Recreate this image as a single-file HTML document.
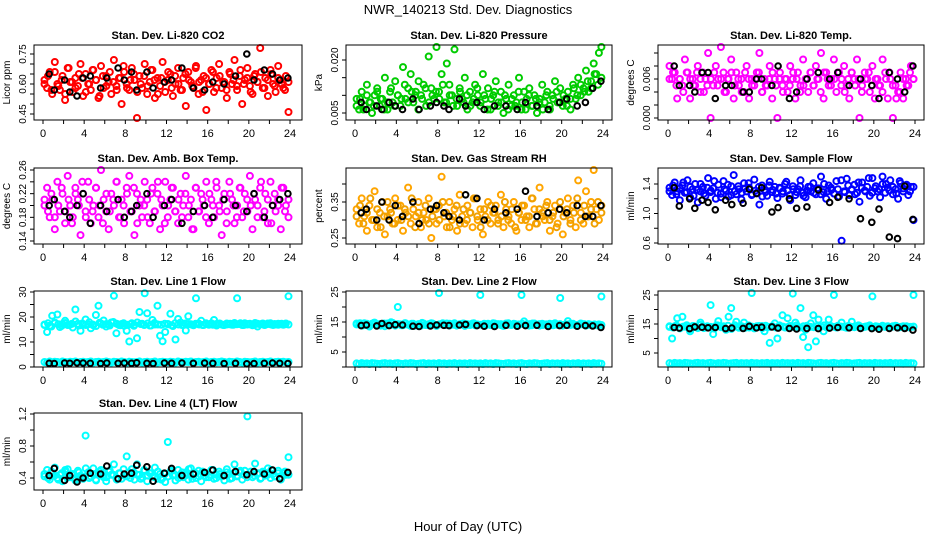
<!DOCTYPE html>
<html><head><meta charset="utf-8">
<style>
html,body{margin:0;padding:0;background:#fff;}
svg{display:block;font-family:"Liberation Sans",Arial,sans-serif;}
</style></head>
<body>
<svg id="chart" width="936" height="540" viewBox="0 0 936 540">
<text x="468" y="14" font-size="13" text-anchor="middle">NWR_140213 Std. Dev. Diagnostics</text>
<text x="468" y="531" font-size="13" text-anchor="middle">Hour of Day (UTC)</text>
</svg>
<script>
const blackHours=[0.6,1.1,2.1,2.6,3.3,3.9,4.6,5.6,6.2,7.3,7.9,8.6,9.1,10.1,10.7,11.8,12.5,13.5,14.6,15.7,16.5,17.6,18.7,19.8,20.5,21.5,22.3,23.0,23.8];
const xTicks=[0,2,4,6,8,10,12,14,16,18,20,22,24];
const xTickLabels=[0,4,8,12,16,20,24];

const co2Vals=[0.62,0.58,0.66,0.55,0.71,0.60,0.57,0.64,0.52,0.68,0.61,0.56,0.63,0.59,0.70,0.54,0.65,0.60,0.57,0.67,0.62,0.53,0.69,0.58,0.64,0.61,0.55,0.72,0.59,0.63,0.50,0.66,0.60,0.57,0.68,0.62,0.43,0.64,0.58,0.70,0.55,0.61,0.67,0.53,0.63,0.59,0.71,0.56,0.62,0.65,0.54,0.60,0.68,0.57,0.63,0.49,0.66,0.61,0.58,0.69,0.55,0.62,0.64,0.47,0.60,0.67,0.56,0.63,0.70,0.58,0.61,0.53,0.66,0.60,0.72,0.57,0.64,0.50,0.62,0.68,0.59,0.55,0.65,0.61,0.78,0.58,0.63,0.54,0.67,0.60,0.56,0.69,0.62,0.58,0.64,0.46];
const co2ValsB=[0.60,0.64,0.57,0.66,0.59,0.62,0.55,0.68,0.61,0.58,0.65,0.63,0.56,0.60,0.67,0.62,0.54,0.64,0.59,0.66,0.61,0.57,0.63,0.69,0.58,0.62,0.65,0.56,0.60,0.64,0.59,0.67,0.62,0.55,0.63,0.61,0.66,0.58,0.64,0.60,0.57,0.65,0.62,0.59,0.68,0.61,0.56,0.63,0.60,0.66,0.58,0.64,0.61,0.57,0.65,0.62,0.59,0.67,0.60,0.63,0.56,0.64,0.61,0.66,0.58,0.62,0.65,0.59,0.63,0.60,0.57,0.61];
const co2Black=[0.65,0.57,0.62,0.56,0.54,0.63,0.64,0.58,0.63,0.68,0.62,0.66,0.57,0.66,0.58,0.61,0.62,0.68,0.58,0.57,0.61,0.60,0.64,0.75,0.62,0.67,0.65,0.62,0.63];

const presVals=[0.009,0.006,0.011,0.007,0.013,0.008,0.005,0.010,0.012,0.007,0.009,0.015,0.006,0.011,0.008,0.014,0.010,0.007,0.018,0.009,0.012,0.016,0.008,0.011,0.006,0.010,0.013,0.007,0.021,0.012,0.009,0.025,0.011,0.016,0.008,0.019,0.013,0.010,0.023,0.007,0.012,0.009,0.015,0.006,0.011,0.008,0.013,0.010,0.007,0.016,0.009,0.012,0.006,0.010,0.014,0.008,0.011,0.005,0.009,0.013,0.007,0.010,0.008,0.015,0.006,0.011,0.009,0.012,0.007,0.010,0.005,0.009,0.013,0.008,0.011,0.006,0.010,0.014,0.008,0.012,0.007,0.009,0.011,0.006,0.013,0.009,0.015,0.010,0.012,0.017,0.011,0.014,0.019,0.016,0.022,0.024];
const presValsB=[0.007,0.009,0.006,0.010,0.008,0.007,0.011,0.009,0.006,0.008,0.012,0.007,0.010,0.009,0.013,0.008,0.011,0.010,0.014,0.009,0.012,0.008,0.010,0.011,0.009,0.013,0.008,0.010,0.007,0.009,0.011,0.008,0.010,0.007,0.009,0.012,0.008,0.010,0.006,0.009,0.011,0.007,0.008,0.010,0.006,0.009,0.007,0.011,0.008,0.006,0.010,0.007,0.009,0.008,0.006,0.010,0.007,0.009,0.011,0.008,0.010,0.007,0.009,0.012,0.010,0.013,0.011,0.014,0.012,0.016,0.013,0.015];
const presBlack=[0.008,0.006,0.007,0.006,0.008,0.007,0.006,0.009,0.006,0.007,0.008,0.007,0.006,0.009,0.007,0.008,0.006,0.007,0.007,0.006,0.008,0.007,0.006,0.008,0.009,0.007,0.008,0.012,0.014];

const tempVals=[0.008,0.006,0.007,0.003,0.006,0.005,0.009,0.007,0.003,0.006,0.005,0.008,0.004,0.007,0.006,0.010,0.000,0.005,0.008,0.006,0.011,0.007,0.004,0.006,0.009,0.003,0.007,0.005,0.006,0.004,0.008,0.003,0.006,0.005,0.007,0.010,0.004,0.006,0.005,0.008,0.003,0.006,0.000,0.007,0.005,0.006,0.004,0.008,0.006,0.003,0.007,0.005,0.009,0.006,0.004,0.007,0.005,0.008,0.006,0.010,0.003,0.007,0.005,0.006,0.009,0.004,0.007,0.006,0.008,0.005,0.003,0.007,0.006,0.009,0.000,0.005,0.007,0.006,0.004,0.008,0.003,0.006,0.005,0.009,0.007,0.003,0.006,0.000,0.005,0.004,0.007,0.003,0.006,0.005,0.008,0.006];
const tempValsB=[0.006,0.007,0.005,0.006,0.004,0.007,0.006,0.005,0.007,0.006,0.004,0.005,0.006,0.007,0.005,0.006,0.004,0.006,0.007,0.005,0.006,0.004,0.007,0.006,0.005,0.006,0.007,0.004,0.005,0.006,0.007,0.005,0.006,0.004,0.006,0.005,0.007,0.006,0.004,0.005,0.006,0.007,0.005,0.006,0.004,0.007,0.006,0.005,0.006,0.007,0.005,0.004,0.006,0.007,0.005,0.006,0.004,0.006,0.007,0.005,0.006,0.005,0.004,0.006,0.007,0.005,0.003,0.004,0.006,0.005,0.007,0.006];
const tempBlack=[0.008,0.005,0.005,0.004,0.007,0.007,0.003,0.005,0.005,0.004,0.004,0.006,0.006,0.005,0.008,0.003,0.004,0.006,0.007,0.006,0.007,0.005,0.006,0.005,0.003,0.007,0.006,0.004,0.008];

const boxVals=[0.20,0.23,0.18,0.21,0.16,0.24,0.19,0.22,0.17,0.25,0.20,0.18,0.23,0.21,0.15,0.22,0.19,0.24,0.17,0.20,0.23,0.18,0.26,0.21,0.19,0.16,0.22,0.20,0.24,0.18,0.21,0.17,0.23,0.25,0.19,0.15,0.22,0.20,0.18,0.24,0.21,0.17,0.23,0.19,0.22,0.16,0.20,0.24,0.18,0.21,0.23,0.19,0.17,0.22,0.20,0.25,0.18,0.21,0.16,0.23,0.19,0.22,0.20,0.24,0.17,0.21,0.18,0.23,0.20,0.15,0.22,0.19,0.24,0.21,0.17,0.20,0.23,0.18,0.22,0.19,0.25,0.16,0.21,0.20,0.23,0.18,0.22,0.17,0.24,0.20,0.19,0.21,0.16,0.23,0.20,0.18];
const boxValsB=[0.21,0.19,0.22,0.18,0.20,0.23,0.19,0.21,0.17,0.22,0.20,0.24,0.18,0.21,0.19,0.23,0.20,0.17,0.22,0.19,0.21,0.24,0.18,0.20,0.22,0.19,0.23,0.17,0.21,0.20,0.18,0.22,0.19,0.24,0.21,0.17,0.20,0.23,0.19,0.21,0.18,0.22,0.20,0.16,0.23,0.19,0.21,0.18,0.22,0.20,0.24,0.19,0.21,0.17,0.22,0.20,0.18,0.23,0.19,0.21,0.20,0.22,0.18,0.24,0.19,0.21,0.17,0.22,0.20,0.23,0.19,0.21];
const boxBlack=[0.20,0.21,0.19,0.18,0.20,0.22,0.17,0.20,0.19,0.21,0.18,0.19,0.20,0.22,0.18,0.20,0.21,0.17,0.19,0.20,0.18,0.21,0.20,0.19,0.22,0.18,0.20,0.21,0.22];

const rhVals=[0.33,0.29,0.36,0.31,0.27,0.34,0.30,0.38,0.28,0.32,0.35,0.26,0.31,0.33,0.29,0.36,0.30,0.34,0.27,0.32,0.39,0.29,0.33,0.31,0.35,0.28,0.32,0.30,0.36,0.25,0.33,0.29,0.34,0.42,0.31,0.28,0.35,0.30,0.33,0.27,0.37,0.31,0.29,0.34,0.32,0.28,0.36,0.30,0.33,0.26,0.31,0.35,0.29,0.32,0.34,0.30,0.37,0.28,0.33,0.31,0.29,0.35,0.27,0.32,0.30,0.34,0.31,0.28,0.36,0.33,0.29,0.39,0.32,0.30,0.35,0.27,0.31,0.34,0.29,0.33,0.26,0.32,0.36,0.30,0.34,0.28,0.41,0.32,0.29,0.38,0.31,0.35,0.44,0.33,0.30,0.34];
const rhValsB=[0.31,0.34,0.29,0.32,0.36,0.30,0.33,0.28,0.31,0.35,0.32,0.29,0.34,0.30,0.33,0.31,0.36,0.28,0.32,0.30,0.34,0.29,0.31,0.33,0.30,0.35,0.32,0.28,0.31,0.34,0.29,0.33,0.30,0.32,0.36,0.31,0.28,0.33,0.30,0.34,0.32,0.29,0.31,0.35,0.30,0.33,0.28,0.32,0.34,0.30,0.31,0.36,0.29,0.33,0.31,0.34,0.30,0.32,0.28,0.35,0.31,0.33,0.29,0.32,0.36,0.30,0.34,0.31,0.33,0.29,0.35,0.32];
const rhBlack=[0.32,0.33,0.30,0.35,0.30,0.34,0.31,0.35,0.29,0.33,0.34,0.32,0.31,0.30,0.37,0.36,0.30,0.33,0.32,0.33,0.38,0.31,0.32,0.33,0.32,0.34,0.31,0.31,0.34];

const flowVals=[1.35,1.25,1.42,1.30,1.18,1.38,1.28,1.45,1.22,1.33,1.40,1.15,1.30,1.36,1.24,1.48,1.29,1.34,1.20,1.39,1.27,1.44,1.31,1.23,1.37,1.52,1.26,1.33,1.19,1.41,1.30,1.35,1.25,1.46,1.28,1.12,1.38,1.32,1.24,1.43,1.29,1.36,1.21,1.34,1.27,1.40,1.31,1.18,1.37,1.25,1.33,1.45,1.28,1.22,1.36,1.30,1.41,1.26,1.34,1.50,1.29,1.20,1.38,1.32,1.27,1.44,1.23,0.63,1.30,1.47,1.25,1.33,1.39,1.28,1.16,1.42,1.31,1.36,1.24,1.48,1.34,1.30,1.22,1.40,1.28,1.35,1.45,1.26,1.33,1.20,1.41,1.30,1.38,1.25,1.36,0.91];
const flowValsB=[1.30,1.38,1.26,1.34,1.42,1.29,1.36,1.24,1.32,1.40,1.27,1.35,1.31,1.44,1.28,1.22,1.33,1.39,1.25,1.30,1.37,1.28,1.34,1.41,1.26,1.31,1.36,1.23,1.29,1.38,1.32,1.27,1.35,1.30,1.43,1.25,1.33,1.29,1.37,1.24,1.31,1.36,1.28,1.34,1.26,1.40,1.30,1.35,1.27,1.33,1.45,1.29,1.38,1.32,1.26,1.42,1.35,1.30,1.48,1.28,1.37,1.33,1.50,1.40,1.31,1.36,1.27,1.44,1.34,1.39,1.30,1.36];
const flowBlack=[1.35,1.10,1.20,1.07,1.18,1.15,1.05,1.18,1.12,1.14,1.33,1.27,1.35,1.02,1.08,1.20,1.07,1.09,1.32,1.15,1.22,1.20,0.93,0.88,1.06,0.68,0.66,1.37,0.92];

const l1Main=[17,14,16.5,20.5,17.5,21,16,17.2,18.5,16.8,17,15.8,23,17.3,14.5,16.9,19,17.1,15.5,16.7,20.8,24.5,17.4,18.6,16.2,17,17.8,28.5,13.5,16.8,17.2,16.5,14.5,10.2,17.5,16.9,11.5,22,17.3,29.5,21.5,16.6,18.8,17,24.5,12.5,10.3,14,17.2,21.3,16.4,11,19.2,17.8,16.9,14.6,20.3,17.1,16.7,27.5,17.4,18.5,16.8,17.2,16.9,17.5,18.8,16.6,17.3,17,16.8,17.4,17.1,16.9,17.6,27.5,17.2,16.8,17.5,17,17.3,16.7,17.6,16.2,17.1,17.4,16.9,17.2,17.5,16.8,17,17.3,17.1,16.9,17.4,28.3];
const l1MainB=[16.8,17.5,16.2,17.8,17.1,16.5,17.6,16.9,17.3,18.2,16.6,17.4,16.8,17.9,17.0,16.4,17.7,16.9,17.2,16.6,18.0,17.3,16.7,17.5,16.9,17.1,16.5,17.8,17.2,16.8,17.4,16.6,17.6,17.0,16.9,17.3,17.1,16.7,17.5,17.0,16.8,17.4,17.2,16.9,17.3,17.0,16.8,17.5,17.1,16.9,17.2,17.4,16.8,17.0,17.3,16.9,17.1,17.5,16.8,17.2,17.0,16.9,17.3,17.1,16.8,17.4,17.0,17.2,16.9,17.3,17.1,17.0];
const l1Low=[2,1.8,2.2,1.9,2.1,2,1.8,2.2,2,1.9,2.1,2,2.2,1.8,2,2.1,1.9,2,2.2,1.8,2,2.1,1.9,2,2.2,2,1.8,2.1,2,1.9,2.2,2,1.8,2.1,2,1.9,2,2.2,1.8,2,2.1,1.9,2,2.2,1.8,2,2.1,2,1.9,2.1,2,1.8,2.2,2,1.9,2.1,2,2.2,1.8,2,2.1,1.9,2,2.2,1.8,2,2.1,1.9,2,2.2,2,1.8,2.1,2,1.9,2.2,2,1.8,2.1,2,1.9,2,2.2,1.8,2,2.1,1.9,2,2.2,1.8,2,2.1,2,2.1,1.9,2];
const l1Black=[1.5,1.4,1.6,1.5,1.7,1.6,1.5,1.4,1.6,1.5,1.6,1.5,1.7,1.5,1.4,1.6,1.5,1.6,1.5,1.6,1.5,1.4,1.5,1.3,1.4,1.5,1.6,1.5,1.4];

const l2Main=[14.5,14.2,13.8,14.6,14.0,13.5,14.4,14.8,13.9,14.3,14.1,13.6,14.5,14.0,14.7,13.8,20,14.2,13.9,14.6,14.1,13.7,14.4,14.0,14.3,13.8,14.5,14.1,13.9,14.6,14.2,13.7,25,14.3,14.0,14.5,13.8,14.2,14.6,13.9,14.1,14.4,13.7,14.3,14.0,14.5,13.9,14.2,24,14.1,13.8,14.4,14.0,14.6,13.9,14.2,14.3,13.7,14.5,14.1,14.0,14.4,13.8,14.2,24,15.2,14.0,14.3,13.9,14.5,14.1,13.8,14.4,14.2,14.0,13.9,14.3,14.6,14.1,23,13.8,14.2,15.3,14.0,14.4,13.9,14.1,14.5,14.2,13.8,14.3,14.0,14.1,13.9,14.2,23.5];
const l2MainB=[14.2,14.6,13.9,14.4,14.0,14.7,14.1,13.8,14.5,14.2,14.9,14.0,14.3,13.9,14.6,14.1,14.4,13.8,14.2,14.7,14.0,14.3,14.5,13.9,14.2,14.6,14.0,14.4,14.1,13.8,14.3,14.5,14.0,14.2,14.6,13.9,14.1,14.4,14.2,14.0,14.5,14.3,13.9,14.2,14.6,14.1,14.3,14.0,14.4,14.2,13.8,14.5,14.1,14.3,14.0,14.2,14.4,13.9,14.1,14.3,14.0,14.2,14.4,14.1,13.9,14.2,14.3,14.0,14.1,14.2,13.9,14.0];
const l2Low=[1.2,1.0,1.3,1.1,1.2,1.0,1.3,1.2,1.1,1.0,1.2,1.3,1.1,1.2,1.0,1.2,1.3,1.1,1.0,1.2,1.1,1.3,1.2,1.0,1.1,1.2,1.3,1.0,1.2,1.1,1.2,1.0,1.3,1.1,1.2,1.0,1.2,1.1,1.3,1.0,1.2,1.1,1.2,1.0,1.3,1.1,1.2,1.1,1.2,1.0,1.3,1.1,1.2,1.0,1.3,1.2,1.1,1.0,1.2,1.3,1.1,1.2,1.0,1.2,1.3,1.1,1.0,1.2,1.1,1.3,1.2,1.0,1.1,1.2,1.3,1.0,1.2,1.1,1.2,1.0,1.3,1.1,1.2,1.0,1.2,1.1,1.3,1.0,1.2,1.1,1.2,1.0,1.3,1.1,1.2,1.1];
const l2Black=[13.8,14.0,13.7,14.5,13.8,14.1,14.0,13.6,13.5,13.7,14.0,13.9,13.8,14.0,14.2,13.8,13.6,13.5,13.9,13.6,13.8,13.9,13.5,13.8,13.9,13.6,13.8,13.7,13.2];

const l3Main=[14,10,14.2,17,13.8,17.5,14.1,13.9,12.5,14.3,14,13.6,15.5,14.2,13.8,14.1,21.5,11.5,14.3,16,13.9,14.2,13,17.5,20.5,14,15.8,13.7,14.2,15.5,14.1,13.8,26,13.5,14.2,14.0,14.3,12.5,13.9,8.5,14.2,15.2,10,14.1,18,13.8,17,14.3,25.5,15.5,14.0,20.5,10.5,13,7,15.2,18,9,16.5,14.1,12.5,13.9,16.5,14.2,25,13.8,14.1,15.5,14.0,13.7,14.2,15.8,13.9,14.1,14.3,13.8,14.0,14.2,14.5,24.5,13.9,14.1,13.8,14.3,14.0,14.2,13.9,14.1,14.4,13.8,14.0,14.2,14.1,13.9,14.0,25];
const l3MainB=[14.2,13.8,14.5,13.5,14.1,14.6,13.2,14.3,13.9,14.7,13.6,14.2,14.0,13.4,14.5,14.1,13.8,14.4,13.3,14.6,14.0,14.2,13.7,14.5,14.1,13.9,14.3,13.6,14.4,14.0,14.2,13.8,14.5,14.1,13.9,14.3,14.0,14.6,13.8,14.2,14.4,14.0,13.9,14.3,14.1,14.5,13.8,14.2,14.0,14.4,14.1,13.9,14.3,14.0,14.2,14.5,13.9,14.1,14.3,14.0,14.2,13.9,14.4,14.1,14.0,14.2,14.3,13.9,14.1,14.2,14.0,14.1];
const l3Low=[1.5,1.3,1.6,1.4,1.5,1.3,1.6,1.5,1.4,1.3,1.5,1.6,1.4,1.5,1.3,1.5,1.6,1.4,1.3,1.5,1.4,1.6,1.5,1.3,1.4,1.5,1.6,1.3,1.5,1.4,1.5,1.3,1.6,1.4,1.5,1.3,1.5,1.4,1.6,1.3,1.5,1.4,1.5,1.3,1.6,1.4,1.5,1.4,1.5,1.3,1.6,1.4,1.5,1.3,1.6,1.5,1.4,1.3,1.5,1.6,1.4,1.5,1.3,1.5,1.6,1.4,1.3,1.5,1.4,1.6,1.5,1.3,1.4,1.5,1.6,1.3,1.5,1.4,1.5,1.3,1.6,1.4,1.5,1.3,1.5,1.4,1.6,1.3,1.5,1.4,1.5,1.3,1.6,1.4,1.5,1.4];
const l3Black=[13.8,13.6,13.4,14.0,13.9,13.7,13.8,13.4,13.6,13.5,14.2,13.7,13.9,14.0,13.6,13.5,13.3,13.5,13.4,13.6,13.8,13.7,13.5,13.4,13.2,13.5,13.7,13.5,12.9];

const l4Vals=[0.42,0.50,0.38,0.46,0.53,0.40,0.44,0.36,0.48,0.51,0.41,0.45,0.37,0.49,0.43,0.39,0.93,0.47,0.42,0.52,0.38,0.45,0.50,0.41,0.36,0.48,0.44,0.57,0.40,0.46,0.39,0.43,0.67,0.47,0.51,0.38,0.57,0.44,0.41,0.49,0.36,0.46,0.42,0.53,0.39,0.45,0.40,0.35,0.85,0.48,0.43,0.37,0.50,0.44,0.41,0.47,0.38,0.52,0.45,0.40,0.49,0.36,0.43,0.46,0.41,0.50,0.39,0.44,0.48,0.42,0.37,0.51,0.45,0.40,0.57,0.43,0.47,0.38,0.49,1.17,0.44,0.41,0.58,0.46,0.39,0.48,0.43,0.52,0.40,0.45,0.42,0.49,0.38,0.46,0.44,0.66];
const l4ValsB=[0.45,0.40,0.48,0.43,0.38,0.46,0.50,0.41,0.44,0.39,0.47,0.42,0.52,0.40,0.45,0.37,0.48,0.43,0.41,0.49,0.44,0.38,0.46,0.51,0.42,0.40,0.47,0.44,0.39,0.50,0.43,0.46,0.41,0.48,0.38,0.45,0.42,0.49,0.44,0.40,0.47,0.43,0.51,0.39,0.46,0.42,0.48,0.41,0.44,0.50,0.40,0.45,0.43,0.47,0.39,0.46,0.42,0.49,0.44,0.41,0.48,0.43,0.45,0.40,0.47,0.44,0.50,0.42,0.46,0.41,0.48,0.44];
const l4Black=[0.43,0.52,0.37,0.43,0.35,0.40,0.46,0.45,0.55,0.39,0.45,0.46,0.56,0.54,0.36,0.46,0.52,0.43,0.45,0.47,0.50,0.43,0.48,0.44,0.48,0.45,0.50,0.39,0.47];

const NS='http://www.w3.org/2000/svg';
const svg=document.getElementById('chart');
function mk(tag,attrs,parent){const e=document.createElementNS(NS,tag);for(const k in attrs)e.setAttribute(k,attrs[k]);(parent||svg).appendChild(e);return e;}

const colX=[{l:34,r:302,x0:43,x24:290},{l:346,r:612,x0:355,x24:603},{l:658,r:924,x0:668,x24:915}];
const rowY=[{t:45,b:120},{t:168,b:244},{t:291,b:367},{t:413,b:490}];

function panel(p){
  const c=colX[p.col],rw=rowY[p.row];
  const g=mk('g',{});
  
  
  const xs=h=>c.x0+(c.x24-c.x0)*h/24;
  const ys=v=>p.p0+(p.p1-p.p0)*(v-p.v0)/(p.v1-p.v0);
  const title=mk('text',{x:(c.l+c.r)/2,y:rw.t-6,'font-size':11,'font-weight':'bold','text-anchor':'middle'},g);
  title.textContent=p.title;
  
  
  const drawSeries=(vals,hours,stroke,r,sw,nm)=>{
    const sg=mk('g',{fill:'none',stroke:stroke,'stroke-width':sw},g);
    
    
    vals.forEach((v,i)=>{
      const h=hours?hours[i]:0.15+i*23.7/(vals.length-1);
      const cy=Math.max(rw.t+2,Math.min(rw.b-2,ys(v)));
      const pt=mk('circle',{cx:xs(h).toFixed(1),cy:cy.toFixed(1),r:r},sg);
      
      
    });
  };
  p.series.forEach(s=>drawSeries(s.vals,null,s.color,3,2,s.nm));
  drawSeries(p.black,blackHours,'#000',2.8,2,'reference-points');
  const box=mk('rect',{x:c.l,y:rw.t,width:c.r-c.l,height:rw.b-rw.t,fill:'none',stroke:'#000','stroke-width':1},g);
  
  
  xTicks.forEach(h=>mk('line',{x1:xs(h),x2:xs(h),y1:rw.b,y2:rw.b+4,stroke:'#000'},g));
  xTickLabels.forEach(h=>{const t=mk('text',{x:xs(h),y:rw.b+17,'font-size':11,'text-anchor':'middle'},g);t.textContent=h;
    
    });
  p.yt.forEach(v=>mk('line',{x1:c.l,x2:c.l-4,y1:ys(v),y2:ys(v),stroke:'#000'},g));
  p.yl.forEach(v=>{const y=ys(v);const t=mk('text',{x:c.l-8,y:y,'font-size':10,'text-anchor':'middle',transform:`rotate(-90 ${c.l-8} ${y})`},g);t.textContent=v.toFixed(p.dec);
    
    });
  const yx=c.l-24,yy=(rw.t+rw.b)/2;
  const yt=mk('text',{x:yx,y:yy,'font-size':10,'text-anchor':'middle',transform:`rotate(-90 ${yx} ${yy})`},g);
  yt.textContent=p.ylab;
  
  
}

panel({name:'panel-co2',col:0,row:0,title:'Stan. Dev. Li-820 CO2',ylab:'Licor ppm',v0:0.45,p0:114,v1:0.75,p1:54,yt:[0.45,0.5,0.55,0.6,0.65,0.7,0.75],yl:[0.45,0.6,0.75],dec:2,series:[{vals:co2Vals,color:'#ff0000',nm:'co2-points'},{vals:co2ValsB,color:'#ff0000',nm:'co2-points-b'}],black:co2Black});
panel({name:'panel-pressure',col:1,row:0,title:'Stan. Dev. Li-820 Pressure',ylab:'kPa',v0:0.005,p0:113,v1:0.020,p1:60,yt:[0.005,0.01,0.015,0.02],yl:[0.005,0.02],dec:3,series:[{vals:presVals,color:'#00cc00',nm:'pressure-points'},{vals:presValsB,color:'#00cc00',nm:'pressure-points-b'}],black:presBlack});
panel({name:'panel-temp',col:2,row:0,title:'Stan. Dev. Li-820 Temp.',ylab:'degrees C',v0:0,p0:118,v1:0.010,p1:53,yt:[0,0.002,0.004,0.006,0.008,0.01],yl:[0,0.006],dec:3,series:[{vals:tempVals,color:'#ff00ff',nm:'temp-points'},{vals:tempValsB,color:'#ff00ff',nm:'temp-points-b'}],black:tempBlack});
panel({name:'panel-box-temp',col:0,row:1,title:'Stan. Dev. Amb. Box Temp.',ylab:'degrees C',v0:0.14,p0:241,v1:0.26,p1:170,yt:[0.14,0.16,0.18,0.2,0.22,0.24,0.26],yl:[0.14,0.18,0.22,0.26],dec:2,series:[{vals:boxVals,color:'#ff00ff',nm:'box-temp-points'},{vals:boxValsB,color:'#ff00ff',nm:'box-temp-points-b'}],black:boxBlack});
panel({name:'panel-rh',col:1,row:1,title:'Stan. Dev. Gas Stream RH',ylab:'percent',v0:0.25,p0:238,v1:0.35,p1:202,yt:[0.25,0.3,0.35,0.4],yl:[0.25,0.35],dec:2,series:[{vals:rhVals,color:'#ffa500',nm:'rh-points'},{vals:rhValsB,color:'#f0a000',nm:'rh-points-b'}],black:rhBlack});
panel({name:'panel-sample-flow',col:2,row:1,title:'Stan. Dev. Sample Flow',ylab:'ml/min',v0:0.6,p0:243,v1:1.4,p1:184,yt:[0.6,0.8,1.0,1.2,1.4],yl:[0.6,1.0,1.4],dec:1,series:[{vals:flowVals,color:'#0000ff',nm:'flow-points'},{vals:flowValsB,color:'#0000ff',nm:'flow-points-b'}],black:flowBlack});
panel({name:'panel-line1',col:0,row:2,title:'Stan. Dev. Line 1 Flow',ylab:'ml/min',v0:0,p0:367,v1:30,p1:292,yt:[0,5,10,15,20,25,30],yl:[0,10,20,30],dec:0,series:[{vals:l1Main,color:'#00ffff',nm:'line1-points'},{vals:l1MainB,color:'#00ffff',nm:'line1-points-b'},{vals:l1Low,color:'#00ffff',nm:'line1-low-points'}],black:l1Black});
panel({name:'panel-line2',col:1,row:2,title:'Stan. Dev. Line 2 Flow',ylab:'ml/min',v0:5,p0:352,v1:25,p1:292,yt:[0,5,10,15,20,25],yl:[5,15,25],dec:0,series:[{vals:l2Main,color:'#00ffff',nm:'line2-points'},{vals:l2MainB,color:'#00ffff',nm:'line2-points-b'},{vals:l2Low,color:'#00ffff',nm:'line2-low-points'}],black:l2Black});
panel({name:'panel-line3',col:2,row:2,title:'Stan. Dev. Line 3 Flow',ylab:'ml/min',v0:5,p0:353,v1:25,p1:295,yt:[5,10,15,20,25],yl:[5,15,25],dec:0,series:[{vals:l3Main,color:'#00ffff',nm:'line3-points'},{vals:l3MainB,color:'#00ffff',nm:'line3-points-b'},{vals:l3Low,color:'#00ffff',nm:'line3-low-points'}],black:l3Black});
panel({name:'panel-line4',col:0,row:3,title:'Stan. Dev. Line 4 (LT) Flow',ylab:'ml/min',v0:0.4,p0:478,v1:1.2,p1:414,yt:[0.4,0.6,0.8,1.0,1.2],yl:[0.4,0.8,1.2],dec:1,series:[{vals:l4Vals,color:'#00ffff',nm:'line4-points'},{vals:l4ValsB,color:'#00ffff',nm:'line4-points-b'}],black:l4Black});
</script>
</body></html>
